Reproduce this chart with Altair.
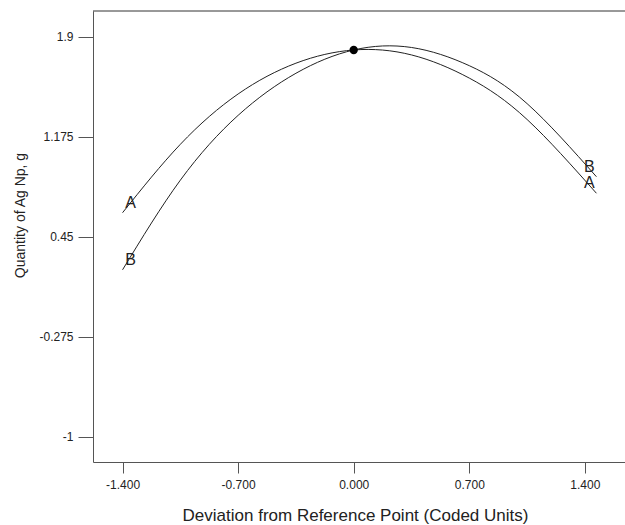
import altair as alt
import pandas as pd

# Perturbation curves (coded units)
x_dev = [-1.4, -1.05, -0.7, -0.35, 0.0, 0.35, 0.7, 1.05, 1.47]
qty_A = [0.624, 1.12, 1.485, 1.708, 1.804, 1.768, 1.60, 1.30, 0.765]
qty_B = [0.21, 0.86, 1.33, 1.635, 1.804, 1.822, 1.69, 1.415, 0.885]
factors = ["A", "B"]

ref_x = [0.0]
ref_y = [1.804]

x_ticks = [-1.4, -0.7, 0.0, 0.7, 1.4]
y_ticks = [-1, -0.275, 0.45, 1.175, 1.9]

rows = []
for f, ys in zip(factors, [qty_A, qty_B]):
    for xv, yv in zip(x_dev, ys):
        rows.append({"factor": f, "x": xv, "y": yv})
df = pd.DataFrame(rows)

left_lab = pd.DataFrame({"x": [x_dev[0]] * 2, "y": [qty_A[0], qty_B[0]], "t": factors})
right_lab = pd.DataFrame({"x": [x_dev[-1]] * 2, "y": [qty_A[-1], qty_B[-1]], "t": factors})
ref_df = pd.DataFrame({"x": ref_x, "y": ref_y})

W, H = 532, 451
FONT = "Liberation Sans"

x_scale = alt.Scale(domain=[-1.579, 1.643], nice=False, zero=False)
y_scale = alt.Scale(domain=[-1.1835, 2.0865], nice=False, zero=False)

x_axis = alt.Axis(
    values=x_ticks,
    labelExpr="replace(format(datum.value, '.3f'), '\u2212', '-')",
    title="Deviation from Reference Point (Coded Units)",
    titleFontSize=17, titleFontWeight="normal", titleFont=FONT, titleColor="#222",
    titleX=262, titleY=53, titleAlign="center", titleBaseline="middle",
    labelFontSize=12, labelFont=FONT, labelColor="#222", labelPadding=6,
    tickSize=11, tickColor="#555", domainColor="#555", grid=False,
)
y_axis = alt.Axis(
    values=y_ticks,
    labelExpr="replace(format(datum.value, '~g'), '\u2212', '-')",
    title="Quantity of Ag Np, g",
    titleFontSize=14, titleFontWeight="normal", titleFont=FONT, titleColor="#222",
    titleX=-73, titleY=204, titleAlign="center", titleBaseline="middle", titleAngle=-90,
    labelFontSize=12, labelFont=FONT, labelColor="#222", labelPadding=5,
    tickSize=15, tickColor="#555", domainColor="#555", grid=False,
)

lines = alt.Chart(df).mark_line(color="#222", strokeWidth=1, interpolate="natural").encode(
    x=alt.X("x:Q", scale=x_scale, axis=x_axis),
    y=alt.Y("y:Q", scale=y_scale, axis=y_axis),
    detail="factor:N",
)

lab_l = alt.Chart(left_lab).mark_text(
    dx=8, dy=-10, fontSize=16, font=FONT, color="#222", align="center", baseline="middle"
).encode(x=alt.X("x:Q", scale=x_scale), y=alt.Y("y:Q", scale=y_scale), text="t:N")

lab_r = alt.Chart(right_lab).mark_text(
    dx=-7, dy=-10, fontSize=16, font=FONT, color="#222", align="center", baseline="middle"
).encode(x=alt.X("x:Q", scale=x_scale), y=alt.Y("y:Q", scale=y_scale), text="t:N")

dot = alt.Chart(ref_df).mark_circle(size=70, color="black", opacity=1).encode(
    x=alt.X("x:Q", scale=x_scale), y=alt.Y("y:Q", scale=y_scale)
)

top_rule = alt.Chart(ref_df).mark_rule(color="#333", strokeWidth=1).encode(
    x=alt.value(0), x2=alt.value(W), y=alt.value(0)
)

chart = alt.layer(top_rule, lines, dot, lab_l, lab_r).properties(
    width=W, height=H,
    autosize=alt.AutoSizeParams(type="none"),
    padding={"left": 93, "top": 11, "right": 0, "bottom": 63},
    background="white",
).configure_view(stroke=None)

chart.save("out.html", embed_options={"renderer": "svg", "actions": False})
